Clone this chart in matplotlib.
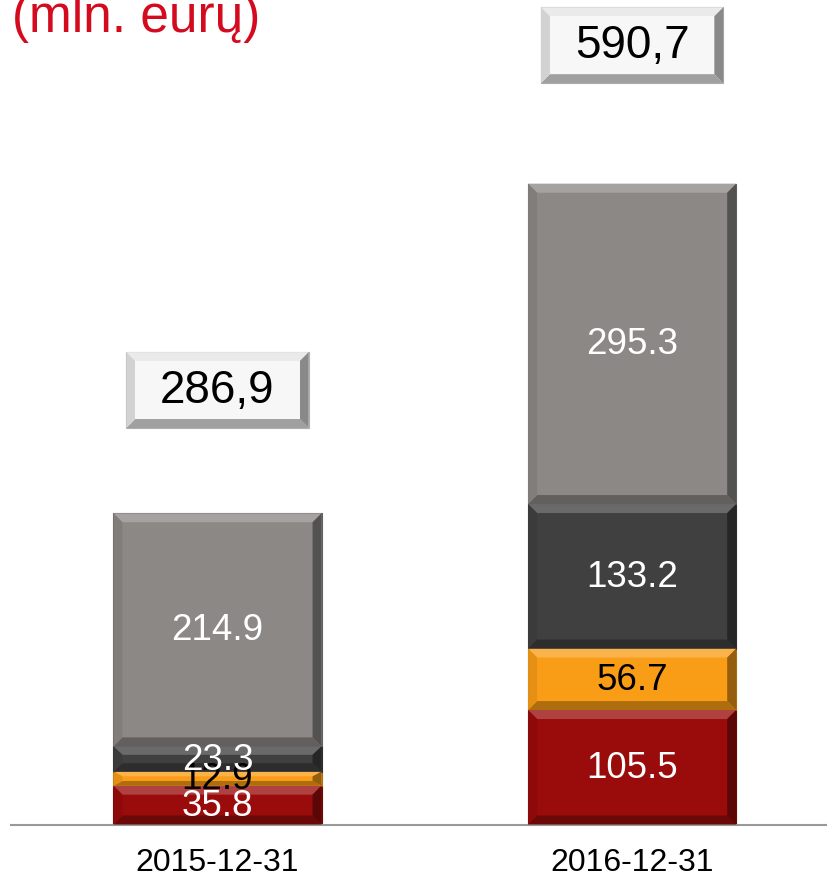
import matplotlib
matplotlib.use("Agg")
import matplotlib.pyplot as plt
import matplotlib.colors as mcolors
from matplotlib.patches import Polygon, Rectangle
import numpy as np

plt.rcParams['font.family'] = ['Liberation Sans', 'DejaVu Sans']

# data
dates = ['2015-12-31', '2016-12-31']
red_vals = [35.8, 105.5]
orange_vals = [12.9, 56.7]
dark_vals = [23.3, 133.2]
gray_vals = [214.9, 295.3]
totals = [286.9, 590.7]

series = [
    (red_vals, '#9A0B0B', 'white'),
    (orange_vals, '#F99D17', 'black'),
    (dark_vals, '#404040', 'white'),
    (gray_vals, '#8C8886', 'white'),
]


def shade(color, f):
    c = np.array(mcolors.to_rgb(color))
    if f > 0:
        c = c + (1 - c) * f
    else:
        c = c * (1 + f)
    return tuple(np.clip(c, 0, 1))


def bevel(ax, x0, y0, w, h, color, bx, by):
    by = min(by, h / 3.0)
    x1, y1 = x0 + w, y0 + h
    top = [(x0, y1), (x1, y1), (x1 - bx, y1 - by), (x0 + bx, y1 - by)]
    bottom = [(x0, y0), (x1, y0), (x1 - bx, y0 + by), (x0 + bx, y0 + by)]
    left = [(x0, y0), (x0 + bx, y0 + by), (x0 + bx, y1 - by), (x0, y1)]
    right = [(x1, y0), (x1 - bx, y0 + by), (x1 - bx, y1 - by), (x1, y1)]
    ax.add_patch(Polygon(top, closed=True, color=shade(color, 0.22), lw=0, zorder=3))
    ax.add_patch(Polygon(bottom, closed=True, color=shade(color, -0.3), lw=0, zorder=3))
    ax.add_patch(Polygon(left, closed=True, color=shade(color, -0.08), lw=0, zorder=3))
    ax.add_patch(Polygon(right, closed=True, color=shade(color, -0.4), lw=0, zorder=3))


fig = plt.figure(figsize=(8.27, 8.78), dpi=100)
ax = fig.add_axes([11 / 827, 1 - 825.5 / 878, 1 - 11 / 827, 825.5 / 878])

x = np.arange(len(dates))
width = 0.502
bx = 9 / 414.5
by = 9 / 1.085

bottom = np.zeros(len(dates))
for vals, color, tcolor in series:
    bars = ax.bar(x, vals, width, bottom=bottom, color=color,
                  edgecolor=shade(color, -0.3), linewidth=0.8, zorder=2)
    for bar, v in zip(bars, vals):
        bevel(ax, bar.get_x(), bar.get_y(), bar.get_width(), bar.get_height(),
              color, bx, by)
        ax.text(bar.get_x() + bar.get_width() / 2, bar.get_y() + bar.get_height() / 2,
                '{:.1f}'.format(v), ha='center', va='center', fontsize=26.5,
                color=tcolor, zorder=5)
    bottom = bottom + np.array(vals)

# total boxes
box_w = 0.44
box_h = 70
box_off = [113.6, 127.7]
for xi, t, off in zip(x, totals, box_off):
    cy = t + off
    x0 = xi - box_w / 2
    y0 = cy - box_h / 2
    ax.add_patch(Rectangle((x0, y0), box_w, box_h, facecolor='#F6F6F6',
                           edgecolor='#B0B0B0', lw=0.8, zorder=2))
    bevel(ax, x0, y0, box_w, box_h, '#E4E4E4', bx, by)
    ax.add_patch(Rectangle((x0 + bx, y0 + by), box_w - 2 * bx, box_h - 2 * by,
                           facecolor='#F7F7F7', lw=0, zorder=4))
    ax.text(xi, cy, '{:.1f}'.format(t).replace('.', ','), ha='center', va='center',
            fontsize=33, color='black', zorder=5)

ax.set_xlim(-0.498, 1.47)
ax.set_ylim(0, 761)
ax.set_xticks(x)
ax.set_xticklabels(dates, fontsize=23)
ax.tick_params(axis='x', length=0, pad=16)
ax.set_yticks([])
for side in ['top', 'right', 'left']:
    ax.spines[side].set_visible(False)
ax.spines['bottom'].set_color('#999999')
ax.spines['bottom'].set_linewidth(1.5)
ax.patch.set_alpha(0)

fig.text(12 / 827, 1 - 32 / 878, '(mln. eurų)', fontsize=37, color='#D40A1E',
         ha='left', va='baseline')

fig.savefig('out.png', dpi=100)
